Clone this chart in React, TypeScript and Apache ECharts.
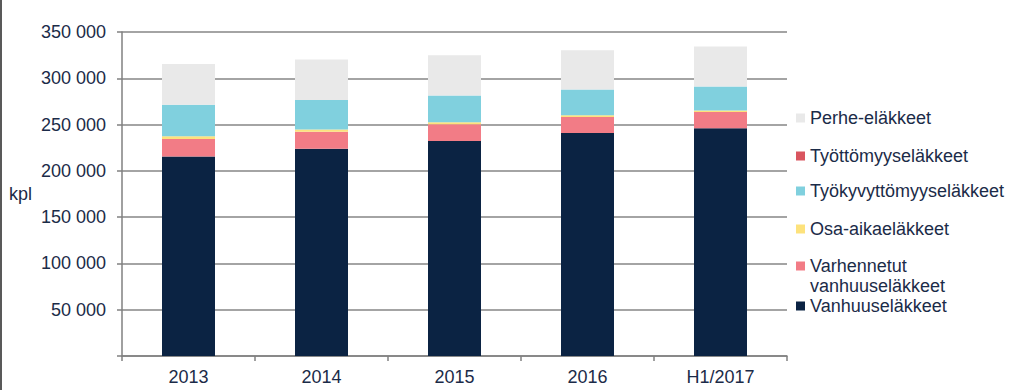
import React, { useEffect, useRef } from "react";
import * as echarts from "echarts";

const categories = ["2013", "2014", "2015", "2016", "H1/2017"];
const vanhuus = [215500, 224000, 232300, 240900, 245900];
const varhennetut = [19000, 18300, 18000, 17400, 17800];
const osaAika = [3000, 2500, 2100, 1700, 1400];
const tyokyvyttomyys = [34000, 31800, 28900, 27800, 25900];
const tyottomyys = [0, 0, 0, 0, 0];
const perhe = [43800, 43600, 43600, 42500, 43300];
const yTicks = [0, 50000, 100000, 150000, 200000, 250000, 300000, 350000];

const TEXT = "#1b2b48";
const FONT = "'Liberation Sans', Arial, sans-serif";

const seriesDefs = [
  { name: "Vanhuuseläkkeet", data: vanhuus, color: "#0b2343", legendY: 305 },
  { name: "Varhennetut vanhuuseläkkeet", data: varhennetut, color: "#f27c86", legendY: 266, twoLine: true },
  { name: "Osa-aikaeläkkeet", data: osaAika, color: "#fde27c", legendY: 228 },
  { name: "Työkyvyttömyyseläkkeet", data: tyokyvyttomyys, color: "#80d0de", legendY: 190 },
  { name: "Työttömyyseläkkeet", data: tyottomyys, color: "#d9555f", legendY: 155 },
  { name: "Perhe-eläkkeet", data: perhe, color: "#e9e9e9", legendY: 117 },
];

function fmt(v: number): string {
  if (v === 0) return "";
  const s = String(v);
  return s.replace(/\B(?=(\d{3})+(?!\d))/g, " ");
}

export default function App() {
  const ref = useRef<HTMLDivElement>(null);
  useEffect(() => {
    document.body.style.margin = "0";
    if (!ref.current) return;
    const chart = echarts.init(ref.current, undefined, { renderer: "svg" });
    const legends = seriesDefs.map((s) => ({
      data: [s.name],
      left: 796,
      top: s.twoLine ? s.legendY - 30 : s.legendY - 9,
      padding: 0,
      itemWidth: 9,
      itemHeight: 9,
      itemGap: 6,
      icon: "rect",
      selectedMode: false,
      formatter: s.twoLine ? () => "\nVarhennetut\nvanhuuseläkkeet" : undefined,
      textStyle: {
        color: TEXT,
        fontSize: 18,
        fontFamily: FONT,
        lineHeight: 20,
      },
    }));
    chart.setOption({
      animation: false,
      textStyle: { fontFamily: FONT },
      grid: { left: 122, right: 237, top: 32, bottom: 34, containLabel: false },
      legend: legends,
      graphic: [
        { type: "rect", shape: { x: 0, y: 0, width: 2, height: 390 }, style: { fill: "#595959" } },
        { type: "text", left: 9, top: 185, style: { text: "kpl", fontSize: 18, fill: TEXT, fontFamily: FONT } },
      ],
      xAxis: {
        type: "category",
        data: categories,
        axisLine: { lineStyle: { color: "#808080", width: 1.5 } },
        axisTick: { show: true, length: 5, alignWithLabel: false, lineStyle: { color: "#808080", width: 1.5 } },
        axisLabel: { color: TEXT, fontSize: 18, margin: 12, fontFamily: FONT },
      },
      yAxis: {
        type: "value",
        min: 0,
        max: 350000,
        interval: 50000,
        axisLine: { show: true, lineStyle: { color: "#808080", width: 1.5 } },
        axisTick: { show: true, length: 5, lineStyle: { color: "#808080", width: 1.5 } },
        axisLabel: {
          color: TEXT,
          fontSize: 18,
          margin: 16,
          fontFamily: FONT,
          formatter: (v: number) => (yTicks.includes(v) ? fmt(v) : ""),
        },
        splitLine: { show: true, lineStyle: { color: "#868686", width: 1.5 } },
      },
      series: seriesDefs.map((s) => ({
        name: s.name,
        type: "bar",
        stack: "total",
        barWidth: 53,
        data: s.data,
        itemStyle: { color: s.color },
      })),
    });
    return () => chart.dispose();
  }, []);
  return <div ref={ref} style={{ width: 1024, height: 390 }} />;
}
